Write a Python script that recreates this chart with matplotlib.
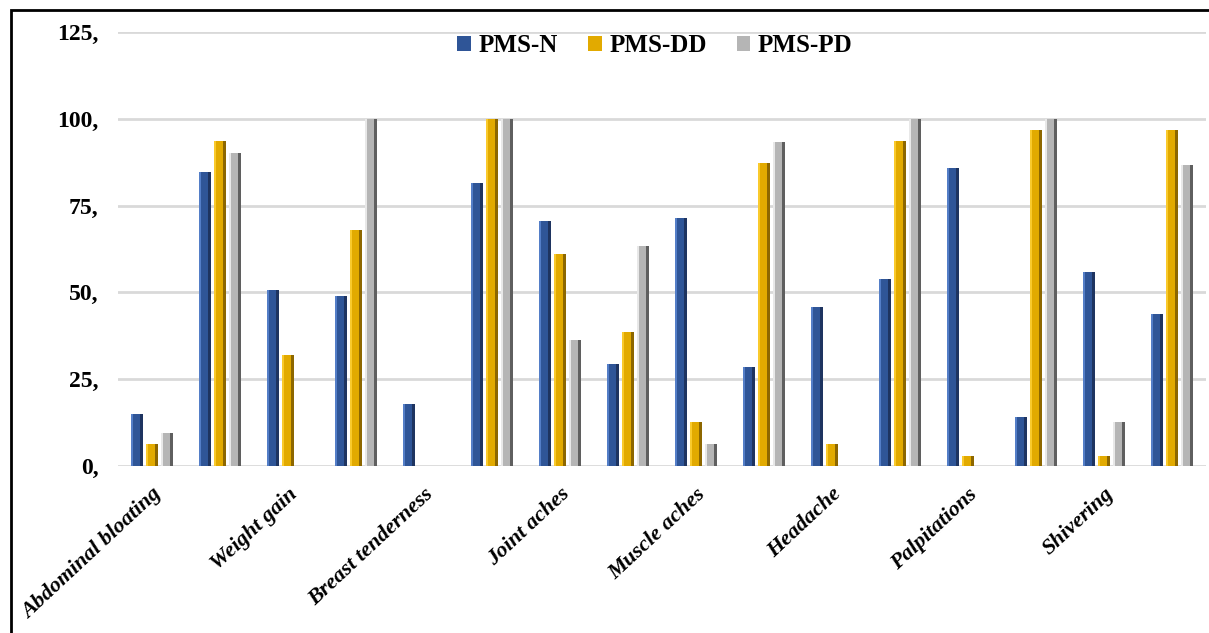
import matplotlib
matplotlib.use("Agg")
import matplotlib.pyplot as plt
import numpy as np
from matplotlib.patches import Rectangle

labels = ["Abdominal bloating", "", "Weight gain", "", "Breast tenderness", "",
          "Joint aches", "", "Muscle aches", "", "Headache", "",
          "Palpitations", "", "Shivering", ""]
pms_n = [15.0, 84.7, 50.8, 48.9, 18.0, 81.6, 70.5, 29.4, 71.3, 28.4, 45.8, 54.0, 85.7, 14.0, 56.0, 43.8]
pms_dd = [6.2, 93.7, 32.0, 67.9, 0, 100, 61.2, 38.6, 12.6, 87.2, 6.2, 93.7, 3.0, 96.9, 3.0, 96.9]
pms_pd = [9.5, 90.1, 0, 100, 0, 100, 36.4, 63.3, 6.2, 93.3, 0, 100, 0, 100, 12.8, 86.7]
series_names = ["PMS-N", "PMS-DD", "PMS-PD"]
yticks = [0, 25, 50, 75, 100, 125]

plt.rcParams['font.family'] = ['Liberation Serif', 'DejaVu Serif']
fig = plt.figure(figsize=(12.09, 6.33), dpi=100)
ax = fig.add_axes([118/1209, 1-466/633, 1088/1209, 434/633])

x = np.arange(len(labels))
bw = 0.176
step = 0.22
styles = [
    ('#2F5597', '#5B86D0', '#1B2F57'),
    ('#E2AA00', '#FFD035', '#7E5C00'),
    ('#B5B5B5', '#F2F2F2', '#505050'),
]
for i, (vals, (main, light, dark)) in enumerate(zip([pms_n, pms_dd, pms_pd], styles)):
    xc = x + (i - 1) * step
    ax.bar(xc, vals, width=bw, color=main, zorder=3, label=series_names[i])
    # bevel: light left strip, dark right strip
    ax.bar(xc - bw/2 + bw*0.1, vals, width=bw*0.2, color=light, zorder=4, alpha=0.85)
    ax.bar(xc + bw/2 - bw*0.14, vals, width=bw*0.28, color=dark, zorder=4, alpha=0.85)

ax.set_xlim(-0.5, len(labels) - 0.5)
ax.set_ylim(0, 125)
ax.set_yticks(yticks)
ax.set_yticklabels([f"{v}," for v in yticks], fontsize=17, fontweight='bold')
ax.tick_params(axis='y', length=0, pad=14)
ax.set_xticks(x)
ax.set_xticklabels(labels, rotation=43, ha='right', va='top', rotation_mode='anchor',
                   fontsize=16, fontweight='bold', fontstyle='italic')
ax.tick_params(axis='x', length=0, pad=13)
ax.grid(axis='y', color='#D9D9D9', linewidth=2, zorder=0)
for s in ax.spines.values():
    s.set_visible(False)

leg = ax.legend(loc='upper center', bbox_to_anchor=(0.4936, 1.047), ncol=3, frameon=False,
                prop={'family': 'Liberation Serif', 'weight': 'bold', 'size': 18},
                handlelength=0.55, handleheight=0.55, handletextpad=0.3, columnspacing=1.2)

fig.patches.append(Rectangle((11/1209, -0.1), 1.2, 1.1 - 10/633, transform=fig.transFigure,
                             fill=False, edgecolor='black', linewidth=2, zorder=10))

fig.savefig("out.png", dpi=100)
